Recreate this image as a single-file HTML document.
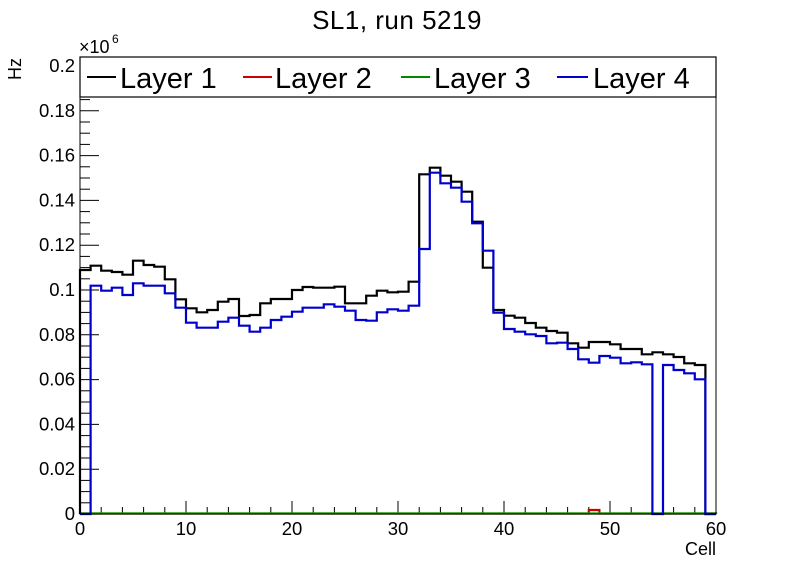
<!DOCTYPE html>
<html><head><meta charset="utf-8"><style>
body{margin:0;background:#fff;}
svg text{font-family:"Liberation Sans",Arial,sans-serif;}
</style></head><body>
<svg id="s" width="796" height="572" xmlns="http://www.w3.org/2000/svg">
<rect width="796" height="572" fill="#fff"/>
<text x="397" y="29" font-size="26" text-anchor="middle" letter-spacing="0.5">SL1, run 5219</text>
<g id="ticks" stroke="#000" stroke-width="1"></g>
<g id="hist" fill="none" stroke-width="2.2"></g>
<rect x="80" y="57" width="636" height="457" fill="none" stroke="#000" stroke-width="1"/>
<rect x="80" y="57" width="636" height="40" fill="#fff" stroke="#000" stroke-width="1.2"/>
<line x1="87" y1="77" x2="116" y2="77" stroke="#000" stroke-width="2"/>
<text x="120" y="88" font-size="29">Layer 1</text>
<line x1="243" y1="77" x2="272" y2="77" stroke="#c00" stroke-width="2"/>
<text x="275" y="88" font-size="29">Layer 2</text>
<line x1="401" y1="77" x2="430" y2="77" stroke="#080" stroke-width="2"/>
<text x="434" y="88" font-size="29">Layer 3</text>
<line x1="557" y1="77" x2="588" y2="77" stroke="#00c" stroke-width="2"/>
<text x="593" y="88" font-size="29">Layer 4</text>
<text x="79" y="53" font-size="18">×10</text>
<text x="112" y="43" font-size="12">6</text>
<text transform="translate(21,80) rotate(-90)" font-size="18">Hz</text>
<text x="716" y="555" font-size="18" text-anchor="end">Cell</text>
<g id="lab" font-size="18.5"></g>
</svg>
<script>
const NS="http://www.w3.org/2000/svg";
function el(p,t,a,txt){const e=document.createElementNS(NS,t);for(const k in a)e.setAttribute(k,a[k]);if(txt!==undefined)e.textContent=txt;p.appendChild(e);return e;}
const x0=80,bw=10.6,yb=514;
const tk=document.getElementById('ticks'),lab=document.getElementById('lab');
for(let v=0;v<=60;v+=2){const x=x0+v*bw;const L=v%10==0?13:7;el(tk,'line',{x1:x,y1:yb,x2:x,y2:yb-L});}
for(let v=0;v<=60;v+=10){el(lab,'text',{x:x0+v*bw,y:535,'text-anchor':'middle'},String(v));}
const ppu=2240;
for(let i=0;i<=40;i++){const v=i*0.005;const y=yb-v*ppu;if(y<57)break;const L=i%4==0?19:10;el(tk,'line',{x1:x0,y1:y,x2:x0+L,y2:y});}
const yl=['0','0.02','0.04','0.06','0.08','0.1','0.12','0.14','0.16','0.18','0.2'];
yl.forEach((t,i)=>{el(lab,'text',{x:75,y:yb-i*0.02*ppu+6,'text-anchor':'end'},t);});
const bL=[90,77,92,96,104,62,75,80,118,178,205,217,210,185,177,228,225,190,177,177,150,141,143,143,140,190,190,167,152,157,155];
const bR=[395,73,53,77,95,125,215,353,480,497,503,519,533,543,548,580,593,576,576,583,597,597,613,607,613,621,640,645];
const uL=[null,137,152,143,165,130,137,137,160,203,248,263,263,245,233,257,275,263,240,230,215,203,203,193,200,212,240,242,217,208,212];
const uR=[467,297,68,100,113,155,220,302,488,537,545,553,558,580,578,597,628,638,618,623,640,637,643,null,645,660,670,688];
function ys(L,R){const a=[];L.forEach(z=>a.push(z===null?yb:240+z/3));R.forEach(z=>a.push(z===null?yb:150+z/3));while(a.length<60)a.push(yb);return a;}
const black=ys(bL,bR),blue=ys(uL,uR);
function path(arr){let d='M'+x0+','+yb;for(let i=0;i<60;i++){const xa=x0+i*bw,xb=x0+(i+1)*bw;d+=' L'+xa+','+arr[i]+' L'+xb+','+arr[i];}d+=' L'+(x0+60*bw)+','+yb;return d;}
const h=document.getElementById('hist');
const green=new Array(60).fill(yb-0.5);
const red=new Array(60).fill(yb-0.5);red[48]=yb-4;
el(h,'path',{d:path(red).replace(/^M[^L]*/,'M'+(x0+48*bw)+','+(yb-0.5)),stroke:'#c00'});
el(h,'path',{d:path(green),stroke:'#0a0'});
el(h,'path',{d:path(black),stroke:'#000'});
el(h,'path',{d:path(blue),stroke:'#00c'});
</script>
</body></html>
